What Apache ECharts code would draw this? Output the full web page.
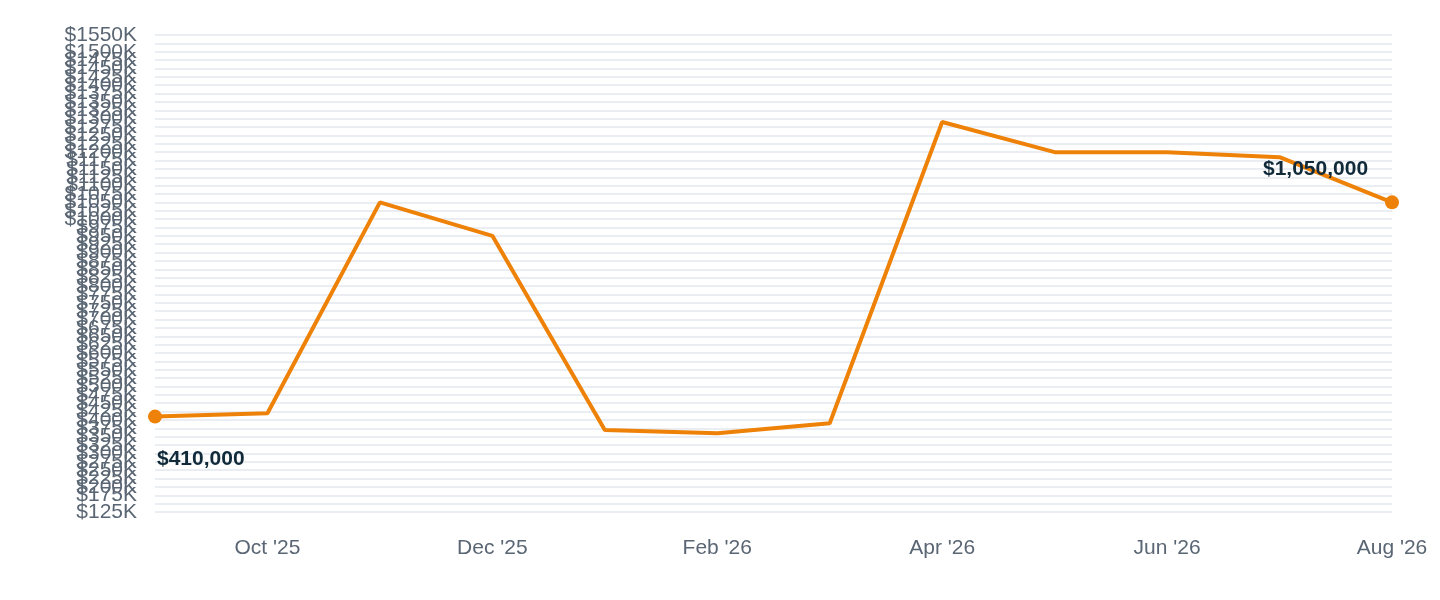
<!DOCTYPE html>
<html><head><meta charset="utf-8">
<script src="https://cdn.jsdelivr.net/npm/echarts@6/dist/echarts.min.js"></script>
<style>html,body{margin:0;background:#fff}#c{width:1440px;height:600px}</style>
</head><body><div id="c"></div>
<script>
const categories = ["Sep '25","Oct '25","Nov '25","Dec '25","Jan '26","Feb '26","Mar '26","Apr '26","May '26","Jun '26","Jul '26","Aug '26"];
const values = [410000,420000,1050000,950000,370000,360000,390000,1290000,1200000,1200000,1185000,1050000];
const yMin = 125000, yMax = 1550000, yStep = 25000;
const chart = echarts.init(document.getElementById('c'));
const last = values.length - 1;
chart.setOption({
  animation:false,
  grid:{left:155,right:48,top:35,bottom:88},
  xAxis:{type:'category',data:categories,boundaryGap:false,
    axisLine:{show:false},axisTick:{show:false},
    axisLabel:{interval:(i)=>i%2===1,color:'#5a6673',fontSize:21,margin:26,fontFamily:'Liberation Sans, Arial'}},
  yAxis:{type:'value',min:yMin,max:yMax,interval:yStep,
    axisLine:{show:false},axisTick:{show:false},
    splitLine:{lineStyle:{color:'#e3e7ec',width:1.5}},
    axisLabel:{color:'#5a6673',fontSize:21,margin:18,fontFamily:'Liberation Sans, Arial',
      showMinLabel:true,showMaxLabel:true,hideOverlap:false,
      formatter:v=>'$'+(v/1000)+'K'}},
  series:[{type:'line',data:values.map((v,i)=>({value:v,
      symbolSize:(i===0||i===last)?14:0,
      label:(i===0||i===last)?{show:true,position:i===0?[9,39]:[-122,-37],
        formatter:'$'+v.toLocaleString('en-US'),fontSize:21,fontWeight:'bold',color:'#102a3a',fontFamily:'Liberation Sans, Arial'}:{show:false}})),
    symbol:'circle',showAllSymbol:true,
    lineStyle:{color:'#ee8208',width:4},itemStyle:{color:'#ee8208'}}]
});
</script></body></html>
